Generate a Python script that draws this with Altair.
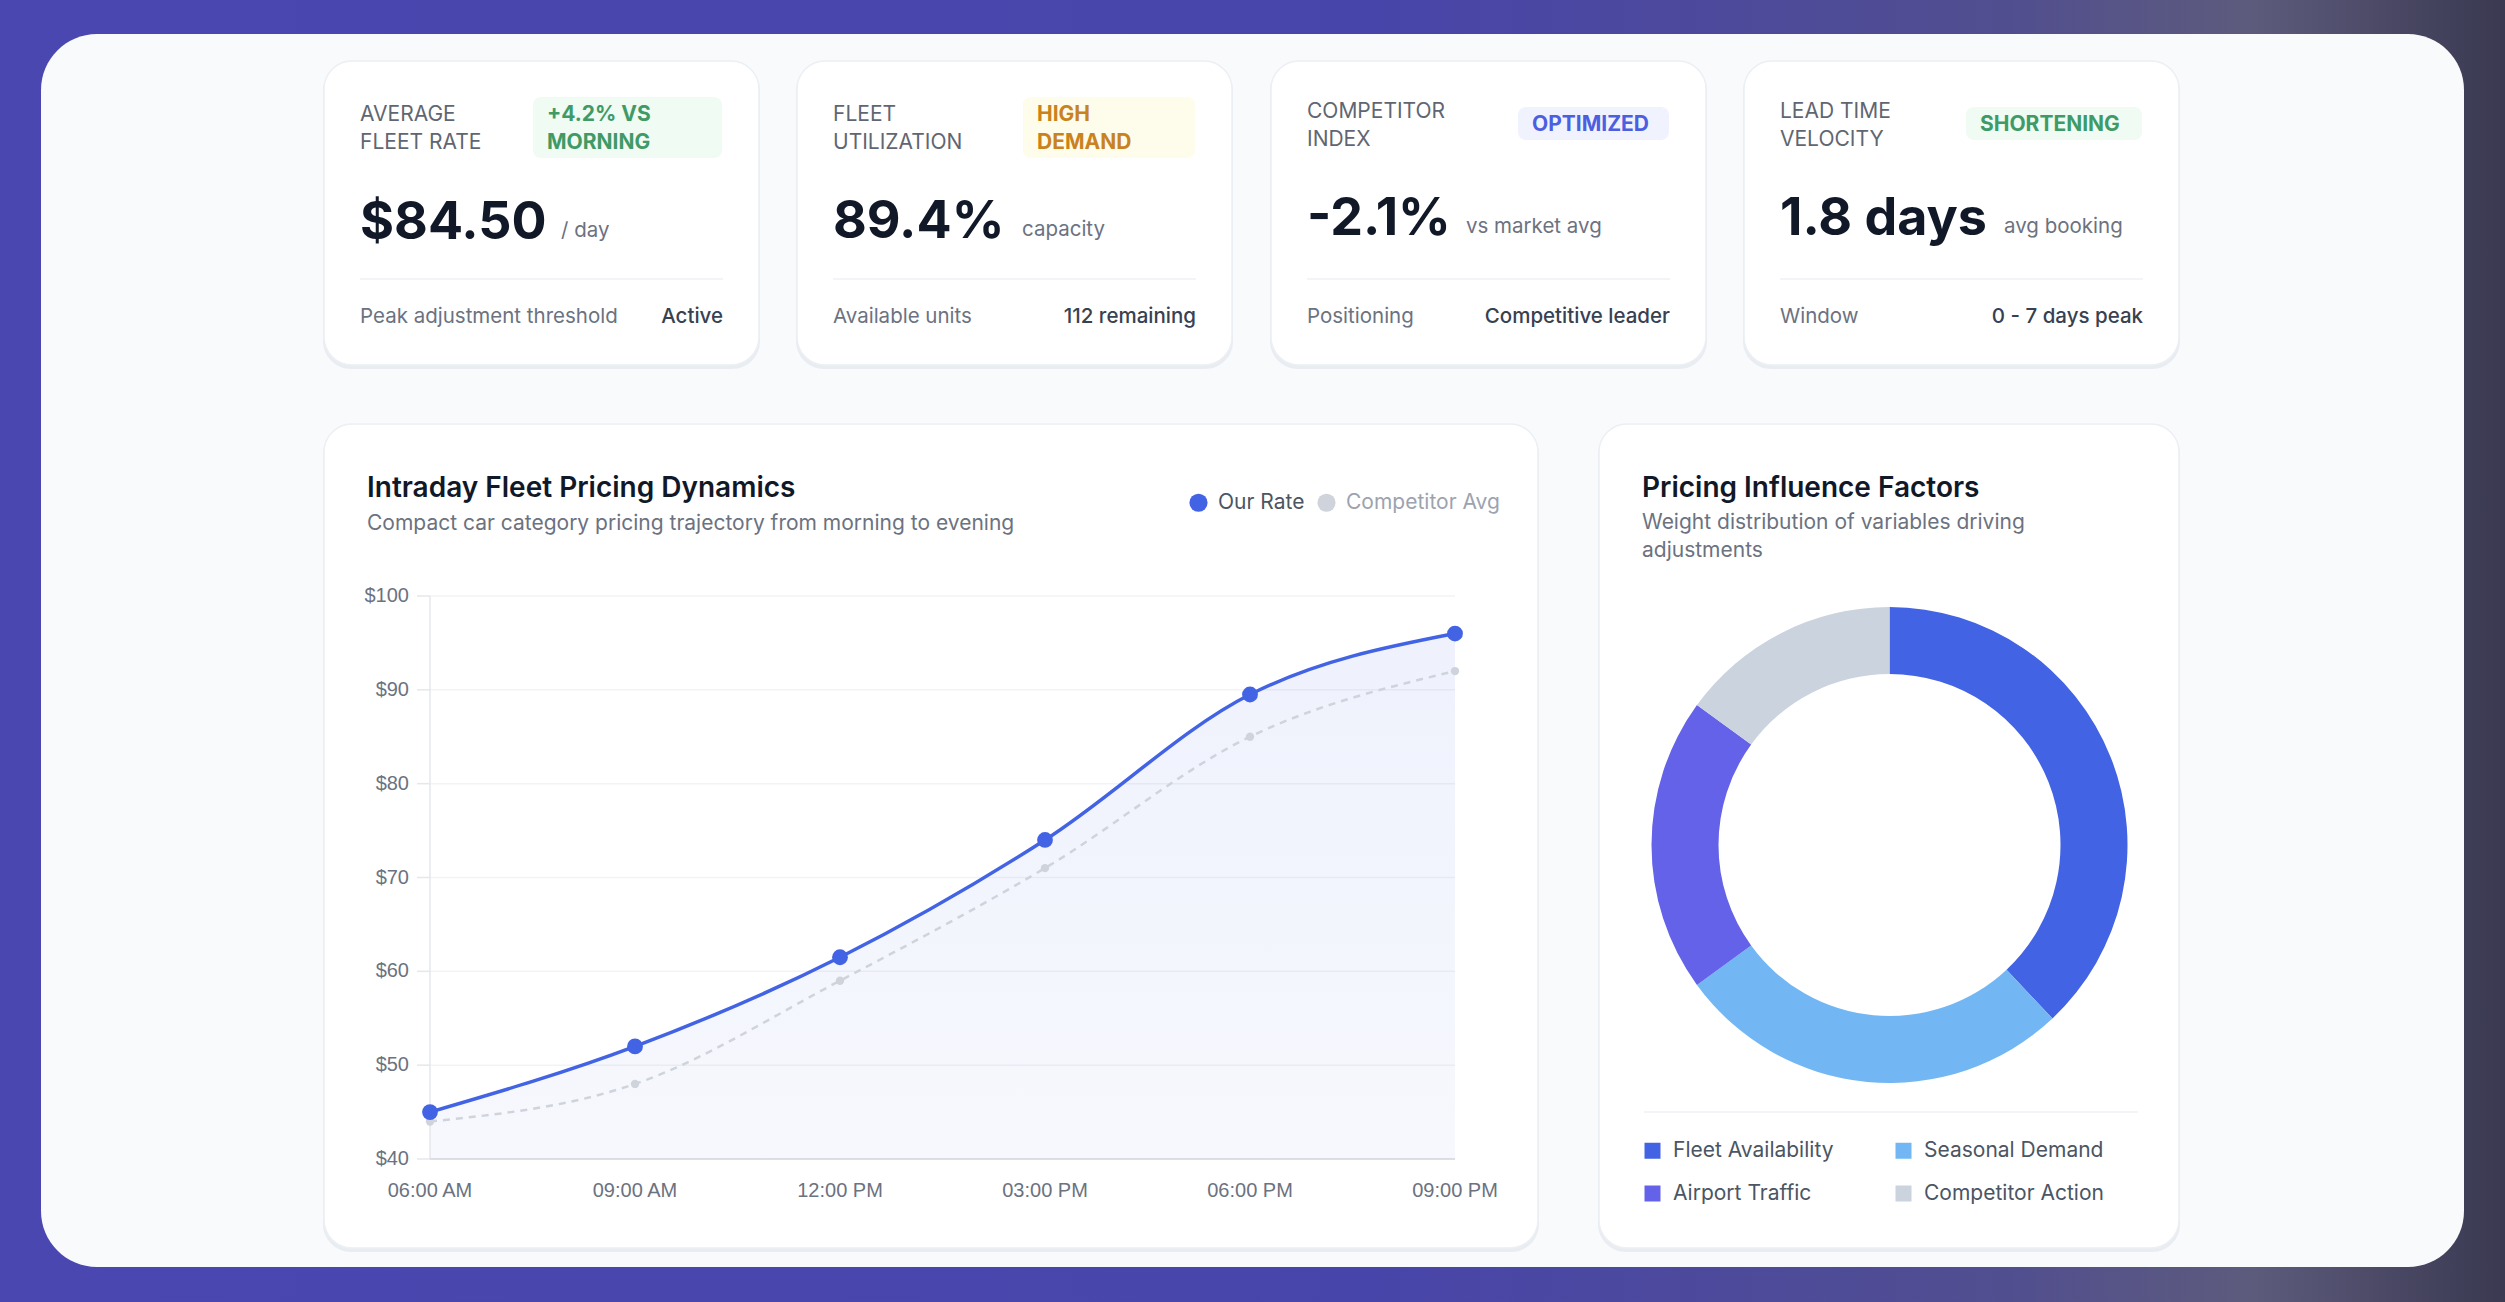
import altair as alt
import pandas as pd

# ------------------------------------------------------------------ data
times = ["06:00 AM", "09:00 AM", "12:00 PM", "03:00 PM", "06:00 PM", "09:00 PM"]
our_rate = [45.0, 52.0, 61.5, 74.0, 89.5, 96.0]
competitor_avg = [44.0, 48.0, 59.0, 71.0, 85.0, 92.0]
series_names = ["Our Rate", "Competitor Avg"]
y_ticks = [40, 50, 60, 70, 80, 90, 100]

factor_names = ["Fleet Availability", "Seasonal Demand", "Airport Traffic", "Competitor Action"]
factor_weights = [38, 27, 20, 15]

kpi_labels = [["AVERAGE", "FLEET RATE"], ["FLEET", "UTILIZATION"], ["COMPETITOR", "INDEX"], ["LEAD TIME", "VELOCITY"]]
kpi_badges = [["+4.2% VS", "MORNING"], ["HIGH", "DEMAND"], ["OPTIMIZED"], ["SHORTENING"]]
kpi_values = ["$84.50", "89.4%", "-2.1%", "1.8 days"]
kpi_units = ["/ day", "capacity", "vs market avg", "avg booking"]
kpi_foot_left = ["Peak adjustment threshold", "Available units", "Positioning", "Window"]
kpi_foot_right = ["Active", "112 remaining", "Competitive leader", "0 - 7 days peak"]

line_title = "Intraday Fleet Pricing Dynamics"
line_subtitle = "Compact car category pricing trajectory from morning to evening"
donut_title = "Pricing Influence Factors"
donut_subtitle = ["Weight distribution of variables driving", "adjustments"]

# ------------------------------------------------------------------ layout / style
W, H = 2505, 1302
FONT = "Inter"
AXIS_FONT = "Liberation Sans"
BLUE = "#4263e3"
COMP_GRAY = "#cfd4dc"
factor_colors = ["#4263e3", "#72b7f3", "#6462e8", "#cbd3de"]
DARK = "#111827"
GRAY = "#6b7280"
LABEL_GRAY = "#5f6672"
PANEL = (41, 34, 2464, 1267)
CARD_X0 = [324, 797, 1271, 1744]
CARD_W = 435
CARD_Y = (61, 365)
PAD = 36
BADGE_X = [533, 1023, 1518, 1966]
BADGE_Y = [(97, 158), (97, 158), (107, 140), (107, 140)]
BADGE_BG = ["#effbf3", "#fefcea", "#f0f3fe", "#effbf3"]
BADGE_FG = ["#3f9a66", "#c9821d", "#4d5fe0", "#3f9a66"]
LABEL_BASE = [121, 121, 118, 118]
BADGE_BASE = [121, 121, 131, 131]
VALUE_BASE = [239, 238, 235, 235]
UNIT_X = [561, 1022, 1466, 2004]
DIV_Y = 279
FOOT_BASE = 323
LINE_CARD = (324, 424, 1538, 1248)
DONUT_CARD = (1599, 424, 2179, 1248)
PLOT_X = (430, 1455)
PLOT_Y = (1159, 596)
X_LABEL_Y = 1191
Y_LABEL_X = 409
TICK_LEN = 13
DONUT_C = (1889.5, 845)
DONUT_R = (171, 238)


def rect_layer(rows, radius=0, stroke=None, stroke_width=0, opacity=1.0):
    mk = dict(cornerRadius=radius, opacity=opacity)
    if stroke:
        mk.update(stroke=stroke, strokeWidth=stroke_width)
    return alt.Chart(pd.DataFrame(rows)).mark_rect(**mk).encode(
        x=alt.X("x:Q", scale=None, axis=None), x2="x2:Q",
        y=alt.Y("y:Q", scale=None, axis=None), y2="y2:Q",
        color=alt.Color("fill:N", scale=None, legend=None),
    )


def text_layer(rows, weight=400, align="left", font=FONT):
    return alt.Chart(pd.DataFrame(rows)).mark_text(
        font=font, fontWeight=weight, align=align, baseline="alphabetic"
    ).encode(
        x=alt.X("x:Q", scale=None, axis=None),
        y=alt.Y("y:Q", scale=None, axis=None),
        text="text:N",
        size=alt.Size("size:Q", scale=None, legend=None),
        color=alt.Color("color:N", scale=None, legend=None),
    )


# ------------------------------------------------------------------ background
bg_grad = alt.LinearGradient(
    gradient="linear", x1=0, x2=1, y1=0, y2=0,
    stops=[alt.GradientStop(color="#4a47b1", offset=0),
           alt.GradientStop(color="#4845aa", offset=0.55),
           alt.GradientStop(color="#514e90", offset=0.8),
           alt.GradientStop(color="#5d5b7c", offset=0.9),
           alt.GradientStop(color="#3a3951", offset=1)])
background = alt.Chart(pd.DataFrame({"a": [0]})).mark_rect(fill=bg_grad).encode(
    x=alt.value(0), x2=alt.value(W), y=alt.value(0), y2=alt.value(H))

panel = rect_layer([dict(x=PANEL[0], x2=PANEL[2], y=PANEL[1], y2=PANEL[3], fill="#f8fafc")], radius=56)

cards = [(x0, CARD_Y[0], x0 + CARD_W, CARD_Y[1]) for x0 in CARD_X0] + [LINE_CARD, DONUT_CARD]
shadows = rect_layer([dict(x=c[0] - 1, x2=c[2] + 1, y=c[1] + 2, y2=c[3] + 4, fill="#dde2ea") for c in cards],
                     radius=28, opacity=0.55)
card_rects = rect_layer([dict(x=c[0], x2=c[2], y=c[1], y2=c[3], fill="#ffffff") for c in cards],
                        radius=28, stroke="#eceff3", stroke_width=1.5)

badges = rect_layer([dict(x=BADGE_X[i], x2=CARD_X0[i] + 398, y=BADGE_Y[i][0], y2=BADGE_Y[i][1], fill=BADGE_BG[i])
                     for i in range(4)], radius=8)

div_rows = [dict(x=x0 + PAD, x2=x0 + CARD_W - PAD, y=DIV_Y, color="#eff1f4") for x0 in CARD_X0]
div_rows.append(dict(x=1644, x2=2138, y=1112, color="#eff1f4"))
dividers = alt.Chart(pd.DataFrame(div_rows)).mark_rule(strokeWidth=1.5).encode(
    x=alt.X("x:Q", scale=None, axis=None), x2="x2:Q",
    y=alt.Y("y:Q", scale=None, axis=None),
    color=alt.Color("color:N", scale=None, legend=None))

# ------------------------------------------------------------------ texts
t_reg, t_bold, t_right, t_title = [], [], [], []
for i, x0 in enumerate(CARD_X0):
    lx = x0 + PAD
    for j, line in enumerate(kpi_labels[i]):
        t_reg.append(dict(x=lx, y=LABEL_BASE[i] + 28 * j, text=line, size=21, color=LABEL_GRAY))
    for j, line in enumerate(kpi_badges[i]):
        t_bold.append(dict(x=BADGE_X[i] + 14, y=BADGE_BASE[i] + 28 * j, text=line, size=21, color=BADGE_FG[i]))
    t_bold.append(dict(x=lx, y=VALUE_BASE[i], text=kpi_values[i], size=52, color=DARK))
    t_reg.append(dict(x=UNIT_X[i], y=VALUE_BASE[i] - 2, text=kpi_units[i], size=20.5, color=GRAY))
    t_reg.append(dict(x=lx, y=FOOT_BASE, text=kpi_foot_left[i], size=20.5, color=GRAY))
    t_right.append(dict(x=x0 + CARD_W - PAD, y=FOOT_BASE, text=kpi_foot_right[i], size=20.5, color="#374151"))

t_title.append(dict(x=367, y=497, text=line_title, size=28, color=DARK))
t_reg.append(dict(x=367, y=530, text=line_subtitle, size=21, color=GRAY))
t_title.append(dict(x=1642, y=497, text=donut_title, size=28, color=DARK))
for j, line in enumerate(donut_subtitle):
    t_reg.append(dict(x=1642, y=529 + 28 * j, text=line, size=21, color=GRAY))

texts = [text_layer(t_reg, 400), text_layer(t_bold, 700), text_layer(t_right, 500, "right"),
         text_layer(t_title, 600)]

# ------------------------------------------------------------------ line chart (scales + axis marks)
xs = alt.Scale(type="point", domain=times, range=list(PLOT_X), padding=0)
ys = alt.Scale(domain=[y_ticks[0], y_ticks[-1]], range=list(PLOT_Y), nice=False, zero=False)

df_our = pd.DataFrame({"time": times, "value": our_rate, "series": series_names[0]})
df_comp = pd.DataFrame({"time": times, "value": competitor_avg, "series": series_names[1]})
df_all = pd.concat([df_our, df_comp], ignore_index=True)
df_ticks = pd.DataFrame({"tick": y_ticks})
df_times = pd.DataFrame({"time": times})

grid = alt.Chart(pd.DataFrame({"tick": y_ticks[1:]})).mark_rule(color="#f1f3f5", strokeWidth=1.5).encode(
    y=alt.Y("tick:Q", scale=ys, axis=None), x=alt.value(PLOT_X[0]), x2=alt.value(PLOT_X[1]))

y_domain = alt.Chart(pd.DataFrame({"lo": [y_ticks[0]], "hi": [y_ticks[-1]]})).mark_rule(
    color="#e5e7eb", strokeWidth=1.5).encode(
    y=alt.Y("lo:Q", scale=ys, axis=None), y2="hi:Q", x=alt.value(PLOT_X[0]))
y_tick_marks = alt.Chart(df_ticks).mark_rule(color="#e5e7eb", strokeWidth=1.5).encode(
    y=alt.Y("tick:Q", scale=ys, axis=None), x=alt.value(PLOT_X[0] - TICK_LEN), x2=alt.value(PLOT_X[0]))
y_labels = alt.Chart(df_ticks).transform_calculate(lab="'$' + datum.tick").mark_text(
    font=AXIS_FONT, fontSize=20, color=GRAY, align="right", baseline="middle").encode(
    y=alt.Y("tick:Q", scale=ys, axis=None), x=alt.value(Y_LABEL_X), text="lab:N")
x_domain = alt.Chart(pd.DataFrame({"a": [0]})).mark_rule(color="#d1d5db", strokeWidth=1.5).encode(
    y=alt.value(PLOT_Y[0]), x=alt.value(PLOT_X[0]), x2=alt.value(PLOT_X[1]))
x_labels = alt.Chart(df_times).mark_text(
    font=AXIS_FONT, fontSize=20, color=GRAY, align="center", baseline="middle").encode(
    x=alt.X("time:N", scale=xs, axis=None, sort=times), y=alt.value(X_LABEL_Y), text="time:N")

area_grad = alt.LinearGradient(
    gradient="linear", x1=0, x2=0, y1=0, y2=1,
    stops=[alt.GradientStop(color="rgba(66,99,227,0.085)", offset=0),
           alt.GradientStop(color="rgba(66,99,227,0.045)", offset=1)])
area = alt.Chart(df_our).mark_area(interpolate="monotone", fill=area_grad, line=False).encode(
    x=alt.X("time:N", scale=xs, axis=None, sort=times),
    y=alt.Y("value:Q", scale=ys, axis=None),
    y2=alt.datum(y_ticks[0]),
)
comp_line = alt.Chart(df_comp).mark_line(interpolate="monotone", color=COMP_GRAY, strokeWidth=2.5,
                                         strokeDash=[7, 6]).encode(
    x=alt.X("time:N", scale=xs, axis=None, sort=times),
    y=alt.Y("value:Q", scale=ys, axis=None))
our_line = alt.Chart(df_our).mark_line(interpolate="monotone", color=BLUE, strokeWidth=3.5).encode(
    x=alt.X("time:N", scale=xs, axis=None, sort=times),
    y=alt.Y("value:Q", scale=ys, axis=None))
points = alt.Chart(df_all).mark_circle(opacity=1).encode(
    x=alt.X("time:N", scale=xs, axis=None, sort=times),
    y=alt.Y("value:Q", scale=ys, axis=None),
    size=alt.Size("series:N", scale=alt.Scale(domain=series_names, range=[250, 70]), legend=None),
    color=alt.Color("series:N", scale=alt.Scale(domain=series_names, range=[BLUE, COMP_GRAY]),
                    legend=alt.Legend(orient="none", legendX=1188, legendY=492, direction="horizontal",
                                      title=None, symbolType="circle", symbolSize=330, symbolStrokeWidth=0,
                                      symbolOpacity=1, labelFont=FONT, labelFontSize=21, labelLimit=400,
                                      labelColor=alt.ExprRef(expr="datum.label === 'Our Rate' ? '#4b5563' : '#9ca3af'"),
                                      labelOffset=9, columnPadding=11)),
    order=alt.Order("series:N", sort="ascending"),
)

# ------------------------------------------------------------------ donut
df_f = pd.DataFrame({"factor": factor_names, "weight": factor_weights, "idx": list(range(len(factor_names)))})
donut = alt.Chart(df_f).mark_arc(innerRadius=DONUT_R[0], outerRadius=DONUT_R[1]).encode(
    theta=alt.Theta("weight:Q", stack=True),
    order=alt.Order("idx:Q"),
    color=alt.Color("factor:N", scale=alt.Scale(domain=factor_names, range=factor_colors),
                    legend=alt.Legend(orient="none", legendX=1642, legendY=1140, columns=2,
                                      direction="horizontal", title=None,
                                      symbolType="square", symbolSize=256, symbolStrokeWidth=0,
                                      labelFont=FONT, labelFontSize=21, labelColor="#4b5563", labelLimit=400,
                                      labelOffset=10, rowPadding=21, columnPadding=40, gridAlign="all")),
    x=alt.value(DONUT_C[0]), y=alt.value(DONUT_C[1]),
)

chart = alt.layer(
    background, panel, shadows, card_rects, badges, dividers, grid,
    area, y_domain, y_tick_marks, x_domain, comp_line, our_line, points, donut,
    y_labels, x_labels, *texts
).resolve_scale(color="independent").properties(
    width=W, height=H, padding=0, autosize=alt.AutoSizeParams(type="none"), background="#4a47b1"
).configure_view(stroke=None)

chart.save("out.html", embed_options={"renderer": "svg", "actions": False})
